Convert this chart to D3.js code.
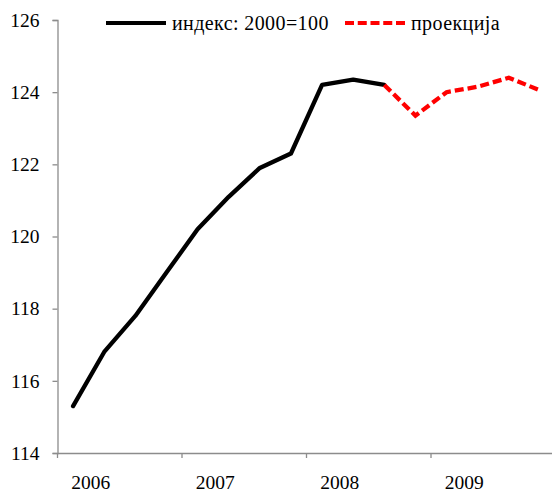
<!DOCTYPE html>
<html>
<head>
<meta charset="utf-8">
<script src="https://cdn.jsdelivr.net/npm/d3@7"></script>
<style>
  body { margin: 0; background: #fff; }
</style>
</head>
<body>
<svg id="chart" width="552" height="492"></svg>
<script>
// quarters 2006Q1 .. 2009Q4
let quarters = ["2006Q1","2006Q2","2006Q3","2006Q4","2007Q1","2007Q2","2007Q3","2007Q4",
                "2008Q1","2008Q2","2008Q3","2008Q4","2009Q1","2009Q2","2009Q3","2009Q4"]
let years = ["2006", "2007", "2008", "2009"]

// index values (2000=100)
let indexValues = [115.3, 116.8, 117.8, 119.0, 120.2, 121.1, 121.9, 122.3, 124.2, 124.35, 124.2]
// projection, starting at the last actual point
let projValues = [124.2, 123.35, 124.0, 124.15, 124.4, 124.05]
let yTicks = [114, 116, 118, 120, 122, 124, 126]

let FONT = "Liberation Serif"

let margin = { top: 20, left: 57.5 },
    width = 498,
    height = 433

let svg = d3.select('#chart')
    .append('g')
    .attr('transform', `translate(${margin.left}, ${margin.top})`)

let x = d3.scaleBand().domain(quarters).range([0, width])
let xYear = d3.scaleBand().domain(years).range([0, width])
let y = d3.scaleLinear().domain([114, 126]).range([height, 0])

// y axis
let yAxis = svg.append('g')
    .call(d3.axisLeft(y).tickValues(yTicks).tickSize(5).tickPadding(13))
yAxis.select('.domain').attr('stroke', '#8c8c8c').attr('stroke-width', 1.3)
yAxis.selectAll('.tick line').attr('stroke', '#8c8c8c').attr('stroke-width', 1.3)
yAxis.selectAll('text')
    .attr('font-family', FONT).attr('font-size', 19.5).attr('fill', '#000')

// x axis: tick marks at year boundaries, year label sits between Q1 and Q2
let xAxis = svg.append('g')
    .attr('transform', `translate(0, ${height})`)
    .call(d3.axisBottom(xYear).tickSize(0).tickPadding(0).tickSizeOuter(0))
xAxis.select('.domain').attr('stroke', '#8c8c8c').attr('stroke-width', 1.3)
xAxis.selectAll('text')
    .attr('font-family', FONT).attr('font-size', 19.5).attr('fill', '#000')
    .attr('dy', null)
    .attr('y', 36)
    .attr('x', -xYear.bandwidth() / 2 + x.bandwidth() + 2)

svg.append('g').selectAll('line.yr')
    .data(years)
    .enter().append('line')
    .attr('x1', d => xYear(d)).attr('x2', d => xYear(d))
    .attr('y1', height).attr('y2', height + 5)
    .attr('stroke', '#8c8c8c').attr('stroke-width', 1.3)

let line = d3.line()
    .x(d => x(d[0]) + x.bandwidth() / 2)
    .y(d => y(d[1]))

let actual = indexValues.map((v, i) => [quarters[i], v])
let proj = projValues.map((v, i) => [quarters[indexValues.length - 1 + i], v])

svg.append('path')
    .datum(actual)
    .attr('fill', 'none')
    .attr('stroke', '#000')
    .attr('stroke-width', 4.3)
    .attr('stroke-linejoin', 'round')
    .attr('stroke-linecap', 'round')
    .attr('d', line)

svg.append('path')
    .datum(proj)
    .attr('fill', 'none')
    .attr('stroke', '#ff0000')
    .attr('stroke-width', 4.3)
    .attr('stroke-dasharray', '9,4')
    .attr('d', line)

// legend
let legend = d3.select('#chart').append('g')
let legendItems = [
    { label: 'индекс: 2000=100', color: '#000', dash: null, x: 106 },
    { label: 'проекција', color: '#ff0000', dash: '9,3.75', x: 345 }
]
legendItems.forEach(function (d) {
    legend.append('line')
        .attr('x1', d.x).attr('x2', d.x + 60)
        .attr('y1', 23).attr('y2', 23)
        .attr('stroke', d.color).attr('stroke-width', 4)
        .attr('stroke-dasharray', d.dash)
    legend.append('text')
        .attr('x', d.x + 66).attr('y', 30)
        .attr('font-family', FONT)
        .attr('font-size', 20)
        .attr('letter-spacing', 0.4)
        .text(d.label)
})
</script>
</body>
</html>
